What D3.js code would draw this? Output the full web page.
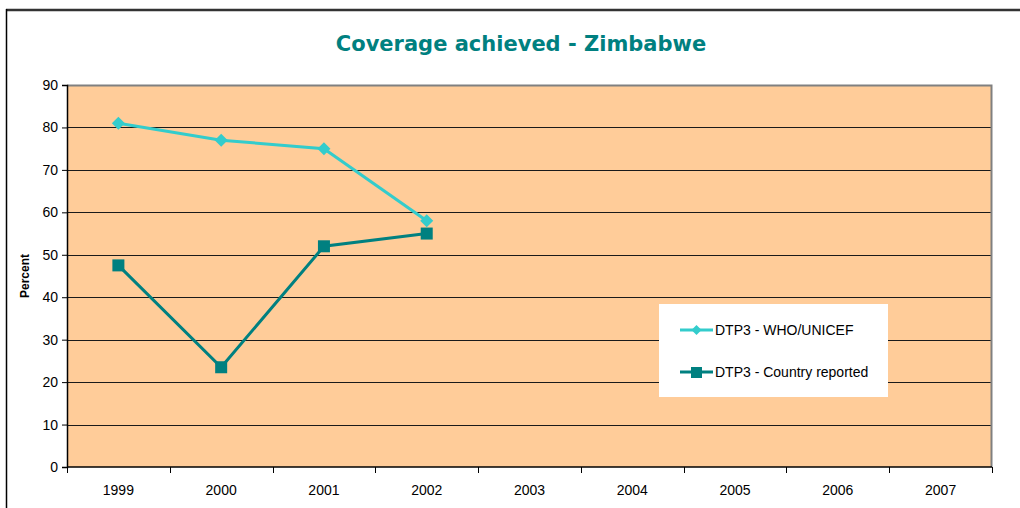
<!DOCTYPE html>
<html>
<head>
<meta charset="utf-8">
<script src="https://cdn.jsdelivr.net/npm/d3@7"></script>
<style>
  body { margin: 0; background: #ffffff; }
  #chart { width: 1020px; height: 508px; }
</style>
</head>
<body>
<div id="chart"></div>
<script>
// chart data
var years = ["1999", "2000", "2001", "2002", "2003", "2004", "2005", "2006", "2007"];
var whoUnicef = [81, 77, 75, 58];
var countryReported = [47.5, 23.5, 52, 55];
var yTicks = [0, 10, 20, 30, 40, 50, 60, 70, 80, 90];
var seriesNames = ["DTP3 - WHO/UNICEF", "DTP3 - Country reported"];

(function () {
    var W = 1020, H = 508;
    var margin = { top: 85, right: 28, bottom: 41, left: 67 },
        width = W - margin.left - margin.right,
        height = H - margin.top - margin.bottom;

    var svg = d3.select("#chart").append("svg")
        .attr("width", W)
        .attr("height", H);

    // outer frame (top + left only, as in the picture)
    svg.append("line")
        .attr("x1", 6).attr("y1", 10).attr("x2", W).attr("y2", 10)
        .attr("stroke", "#333333").attr("stroke-width", 2.5);
    svg.append("line")
        .attr("x1", 6.5).attr("y1", 9).attr("x2", 6.5).attr("y2", H)
        .attr("stroke", "#000000").attr("stroke-width", 1.5);

    // title
    svg.append("text")
        .attr("x", 521)
        .attr("y", 51)
        .attr("text-anchor", "middle")
        .style("font-family", "DejaVu Sans, Verdana, sans-serif")
        .style("font-weight", "bold")
        .style("font-size", "21px")
        .style("fill", "#008080")
        .text("Coverage achieved - Zimbabwe");

    var g = svg.append("g")
        .attr("transform", "translate(" + margin.left + "," + margin.top + ")");

    var x = d3.scaleBand().domain(years).range([0, width]);
    var y = d3.scaleLinear().domain([0, 90]).range([height, 0]);

    // plot background
    g.append("rect")
        .attr("x", 0).attr("y", 0)
        .attr("width", width).attr("height", height)
        .attr("fill", "#ffcc99");

    // gridlines
    g.selectAll(".grid")
        .data(yTicks.filter(function (d) { return d > 0 && d < 90; }))
        .enter().append("line")
        .attr("class", "grid")
        .attr("x1", 0).attr("x2", width)
        .attr("y1", function (d) { return Math.round(y(d)) + 0.5; })
        .attr("y2", function (d) { return Math.round(y(d)) + 0.5; })
        .attr("stroke", "#1a1a1a").attr("stroke-width", 1);

    // plot border top/right (gray)
    g.append("path")
        .attr("d", "M0,0.5H" + (width - 0.5) + "V" + height)
        .attr("fill", "none")
        .attr("stroke", "#808080").attr("stroke-width", 2);

    // y axis
    var yAxis = d3.axisLeft(y).tickValues(yTicks).tickSize(5).tickPadding(4);
    var ya = g.append("g").call(yAxis);
    ya.select(".domain").attr("stroke", "#000").attr("stroke-width", 1.5);
    ya.selectAll(".tick line").attr("stroke", "#000");
    ya.selectAll("text")
        .style("font-family", "Liberation Sans, Arial, sans-serif")
        .style("font-size", "14px")
        .style("fill", "#000");

    // x axis: ticks at category boundaries
    var xa = g.append("g").attr("transform", "translate(0," + height + ")");
    xa.append("line")
        .attr("x1", 0).attr("x2", width)
        .attr("y1", 0).attr("y2", 0)
        .attr("stroke", "#000").attr("stroke-width", 1.5);
    var bounds = years.map(function (d) { return x(d); }).concat([width]);
    xa.selectAll(".xtick")
        .data(bounds)
        .enter().append("line")
        .attr("class", "xtick")
        .attr("x1", function (d) { return Math.round(d) + 0.5; })
        .attr("x2", function (d) { return Math.round(d) + 0.5; })
        .attr("y1", 0).attr("y2", 6)
        .attr("stroke", "#000");
    xa.selectAll(".xlabel")
        .data(years)
        .enter().append("text")
        .attr("class", "xlabel")
        .attr("x", function (d) { return x(d) + x.bandwidth() / 2; })
        .attr("y", 28)
        .attr("text-anchor", "middle")
        .style("font-family", "Liberation Sans, Arial, sans-serif")
        .style("font-size", "14px")
        .style("fill", "#000")
        .text(function (d) { return d; });

    // y axis title
    svg.append("text")
        .attr("transform", "translate(29," + (margin.top + y(45)) + ") rotate(-90)")
        .attr("text-anchor", "middle")
        .style("font-family", "Liberation Sans, Arial, sans-serif")
        .style("font-weight", "bold")
        .style("font-size", "12px")
        .style("fill", "#000")
        .text("Percent");

    var cx = function (i) { return x(years[i]) + x.bandwidth() / 2; };
    var line = d3.line()
        .x(function (d, i) { return cx(i); })
        .y(function (d) { return y(d); });

    var colors = ["#33cccc", "#008080"];

    // WHO/UNICEF series
    g.append("path")
        .datum(whoUnicef)
        .attr("d", line)
        .attr("fill", "none")
        .attr("stroke", colors[0]).attr("stroke-width", 3);
    g.selectAll(".dia")
        .data(whoUnicef)
        .enter().append("path")
        .attr("class", "dia")
        .attr("transform", function (d, i) { return "translate(" + cx(i) + "," + y(d) + ")"; })
        .attr("d", "M0,-6.5L6.5,0L0,6.5L-6.5,0Z")
        .attr("fill", colors[0]);

    // Country reported series
    g.append("path")
        .datum(countryReported)
        .attr("d", line)
        .attr("fill", "none")
        .attr("stroke", colors[1]).attr("stroke-width", 3);
    g.selectAll(".sq")
        .data(countryReported)
        .enter().append("rect")
        .attr("class", "sq")
        .attr("x", function (d, i) { return cx(i) - 6; })
        .attr("y", function (d) { return y(d) - 6; })
        .attr("width", 12).attr("height", 12)
        .attr("fill", colors[1]);

    // legend
    var lg = svg.append("g").attr("transform", "translate(659,304)");
    lg.append("rect")
        .attr("width", 229).attr("height", 93)
        .attr("fill", "#ffffff");
    var rows = [26, 68];
    seriesNames.forEach(function (name, i) {
        var r = lg.append("g").attr("transform", "translate(0," + rows[i] + ")");
        r.append("line")
            .attr("x1", 21).attr("x2", 54)
            .attr("y1", 0).attr("y2", 0)
            .attr("stroke", colors[i]).attr("stroke-width", 3);
        if (i === 0) {
            r.append("path")
                .attr("transform", "translate(37.5,0)")
                .attr("d", "M0,-5L5,0L0,5L-5,0Z")
                .attr("fill", colors[i]);
        } else {
            r.append("rect")
                .attr("x", 32).attr("y", -5)
                .attr("width", 11).attr("height", 11)
                .attr("fill", colors[i]);
        }
        r.append("text")
            .attr("x", 56)
            .attr("y", 5)
            .style("font-family", "Liberation Sans, Arial, sans-serif")
            .style("font-size", "14px")
            .style("fill", "#000")
            .text(name);
    });
})();
</script>
</body>
</html>
